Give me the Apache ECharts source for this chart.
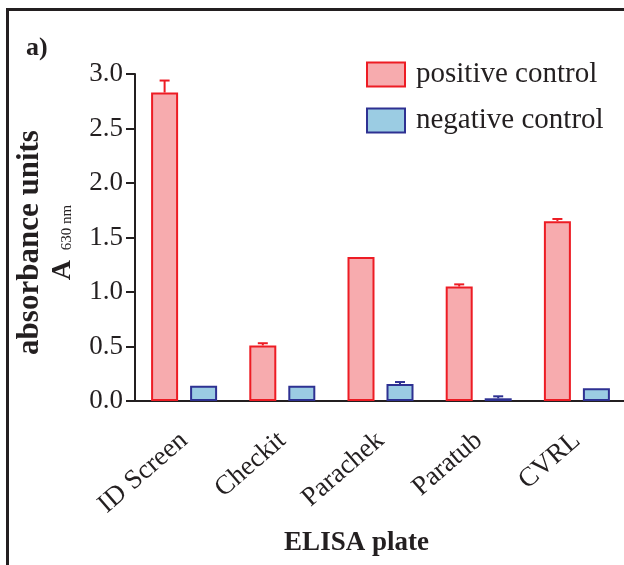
<!DOCTYPE html>
<html>
<head>
<meta charset="utf-8">
<script src="https://cdn.jsdelivr.net/npm/echarts@6/dist/echarts.min.js"></script>
<style>html,body{margin:0;padding:0;background:#fff;overflow:hidden}#c{width:624px;height:565px}</style>
</head>
<body>
<div id="c"></div>
<script>
var categories = ['ID Screen', 'Checkit', 'Parachek', 'Paratub', 'CVRL'];
var positiveValues = [2.83, 0.51, 1.32, 1.05, 1.65];
var positiveErrors = [0.11, 0.02, 0.0, 0.02, 0.02];
var negativeValues = [0.14, 0.14, 0.156, 0.025, 0.117];
var negativeErrors = [0.0, 0.0, 0.018, 0.018, 0.0];
var yTicks = [0, 0.5, 1.0, 1.5, 2.0, 2.5, 3.0];

var FONT = '"Liberation Serif", "Times New Roman", serif';
var INK = '#231f20';
var POS_FILL = '#f7abae', POS_LINE = '#ed1c24';
var NEG_FILL = '#9bcce3', NEG_LINE = '#2e3192';
var BAR_W = 27, BAR_GAP_PX = 12;

function errData(vals, errs) {
  return vals.map(function (v, i) { return [i, v, errs[i]]; });
}
function errRender(side, color) {
  return function (params, api) {
    var i = api.value(0), v = api.value(1), e = api.value(2);
    if (!e) return null;
    var off = side * (BAR_W + BAR_GAP_PX) / 2;
    var p0 = api.coord([i, v]);
    var p1 = api.coord([i, v + e]);
    var x = p0[0] + off;
    return {
      type: 'group',
      children: [
        {type: 'line', shape: {x1: x, y1: p0[1], x2: x, y2: p1[1]}, style: {stroke: color, lineWidth: 2}},
        {type: 'line', shape: {x1: x - 5, y1: p1[1], x2: x + 5, y2: p1[1]}, style: {stroke: color, lineWidth: 2}}
      ]
    };
  };
}

var chart = echarts.init(document.getElementById('c'), null, {renderer: 'canvas'});
chart.setOption({
  animation: false,
  backgroundColor: '#fff',
  textStyle: {fontFamily: FONT, color: INK},
  title: {
    text: 'a)', left: 26, top: 35, padding: 0,
    textStyle: {fontFamily: FONT, fontWeight: 'bold', fontSize: 26, color: INK}
  },
  graphic: [
    {type: 'line', shape: {x1: 7.5, y1: 9.5, x2: 7.5, y2: 565}, style: {stroke: INK, lineWidth: 3}, silent: true},
    {type: 'line', shape: {x1: 6, y1: 9.5, x2: 624, y2: 9.5}, style: {stroke: INK, lineWidth: 3}, silent: true}
  ],
  legend: {
    data: ['positive control', 'negative control'],
    orient: 'vertical', left: 366, top: 60, padding: 0,
    itemWidth: 38, itemHeight: 24, itemGap: 17, icon: 'rect',
    textStyle: {fontFamily: FONT, fontSize: 29, color: INK, padding: [0, 0, 0, 6]}
  },
  grid: {left: 135, top: 74, width: 491, height: 327, containLabel: false, outerBoundsMode: 'none'},
  xAxis: {
    type: 'category', data: categories,
    axisLine: {lineStyle: {color: INK, width: 2}},
    axisTick: {alignWithLabel: true, length: 9, lineStyle: {color: INK, width: 2}},
    axisLabel: {rotate: 41, margin: 36, fontSize: 27, fontFamily: FONT, color: INK},
    name: 'ELISA plate', nameLocation: 'middle', nameGap: 129,
    nameTextStyle: {fontFamily: FONT, fontWeight: 'bold', fontSize: 27, color: INK, padding: [0, 48, 0, 0]}
  },
  yAxis: {
    type: 'value', min: 0, max: 3.0, interval: 0.5,
    splitLine: {show: false},
    axisLine: {show: true, lineStyle: {color: INK, width: 2}},
    axisTick: {show: true, length: 9, lineStyle: {color: INK, width: 2}},
    axisLabel: {margin: 12, fontSize: 27, fontFamily: FONT, color: INK,
      formatter: function (v) { return v.toFixed(1); }},
    name: '{b|absorbance units}\n{a|A}{s| 630 nm}',
    nameLocation: 'middle', nameGap: 58, nameRotate: 90,
    nameTextStyle: {
      padding: [0, 10, 0, 0],
      rich: {
        b: {fontFamily: FONT, fontWeight: 'bold', fontSize: 31, color: INK, lineHeight: 32, verticalAlign: 'bottom'},
        a: {fontFamily: FONT, fontWeight: 'bold', fontSize: 28, color: INK, lineHeight: 32, verticalAlign: 'bottom', padding: [0, 6, 0, 0]},
        s: {fontFamily: FONT, fontSize: 15, color: INK, lineHeight: 32, verticalAlign: 'bottom', padding: [0, 0, 2, 0]}
      }
    }
  },
  series: [
    {
      name: 'positive control', type: 'bar', data: positiveValues,
      barWidth: BAR_W, barGap: (BAR_GAP_PX / BAR_W * 100) + '%',
      itemStyle: {color: POS_FILL, borderColor: POS_LINE, borderWidth: 2},
      z: 2
    },
    {
      name: 'negative control', type: 'bar', data: negativeValues,
      barWidth: BAR_W,
      itemStyle: {color: NEG_FILL, borderColor: NEG_LINE, borderWidth: 2},
      z: 2
    },
    {
      name: 'pos err', type: 'custom', data: errData(positiveValues, positiveErrors),
      renderItem: errRender(-1, POS_LINE), encode: {x: 0, y: 1}, z: 3, silent: true
    },
    {
      name: 'neg err', type: 'custom', data: errData(negativeValues, negativeErrors),
      renderItem: errRender(1, NEG_LINE), encode: {x: 0, y: 1}, z: 3, silent: true
    }
  ]
});
</script>
</body>
</html>
